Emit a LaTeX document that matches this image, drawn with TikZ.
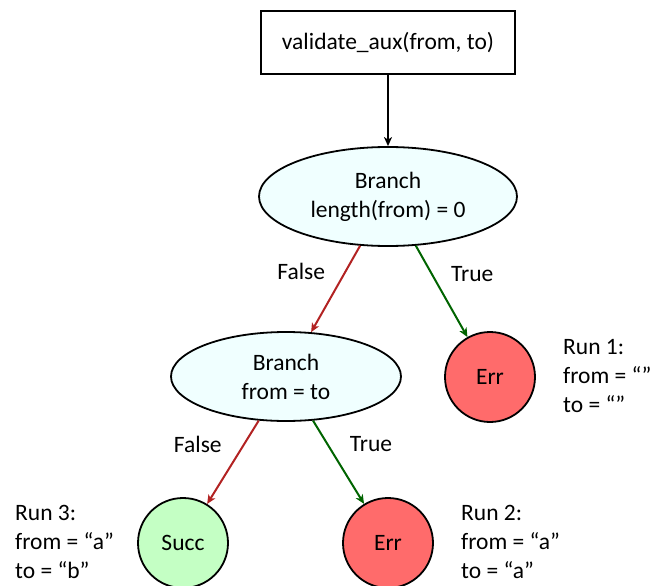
\documentclass[tikz,border=0pt]{standalone}
\usepackage{fontspec}
\setmainfont{Carlito}
\usepackage{xcolor}
\usepackage{tikz}
\usetikzlibrary{shapes.geometric, arrows.meta}

\definecolor{branchfill}{RGB}{240,255,255}
\definecolor{errfill}{RGB}{255,107,107}
\definecolor{succfill}{RGB}{196,255,196}
\definecolor{falsecol}{RGB}{178,34,34}
\definecolor{truecol}{RGB}{0,100,0}

\begin{document}
\begin{tikzpicture}%
                [x=1pt, y=-1pt,
                font=\fontsize{23.5}{29}\selectfont,
                entry/.style={draw, line width=1.8pt, minimum width=254pt, minimum height=63pt},
                branch/.style={ellipse, draw, line width=1.8pt, fill=branchfill, align=center, inner sep=0pt},
                errleaf/.style={circle, draw, line width=1.8pt, fill=errfill, minimum size=90pt, inner sep=0pt},
                succleaf/.style={circle, draw, line width=1.8pt, fill=succfill, minimum size=90pt, inner sep=0pt},
                runinfo/.style={align=left, anchor=west, inner sep=0pt},
                flow/.style={line width=2pt, -{Stealth[length=9pt, width=8pt, inset=2.5pt]}},
                falseedge/.style={flow, color=falsecol},
                trueedge/.style={flow, color=truecol},
                tag/.style={text=black}]

            \useasboundingbox (0,0) rectangle (651,586);

            %% Drawing the nodes
            \node[entry] (validate) at (388, 42.5) {validate\_aux(from, to)};
            \node[branch, minimum width=258pt, minimum height=99pt] (branchA) at (388, 196.5) {Branch\\length(from) = 0};
            \node[branch, minimum width=230pt, minimum height=89pt] (branchB) at (286, 376.5) {Branch\\from = to};
            \node[errleaf] (errA) at (490, 377) {Err};
            \node[succleaf] (succ) at (183, 543) {Succ};
            \node[errleaf] (errB) at (388, 543) {Err};
            %%
            %% Drawing the runs
            %%
            \node[runinfo] (runA) at (563, 376) {Run 1:\\from = “”\\to = “”};
            \node[runinfo] (runB) at (461, 542) {Run 2:\\from = “a”\\to = “a”};
            \node[runinfo] (runC) at (15, 542) {Run 3:\\from = “a”\\to = “b”};
            %%
            %% Drawing the edges
            %%
            \draw[flow] (validate) -- (branchA);
            \draw[falseedge] (branchA) -- node[tag, pos=0.3, left=16pt] {False} (branchB);
            \draw[trueedge] (branchA) -- node[tag, pos=0.31, right=15pt] {True} (errA);
            \draw[falseedge] (branchB) -- node[tag, pos=0.285, left=18pt] {False} (succ);
            \draw[trueedge] (branchB) -- node[tag, pos=0.285, right=18pt] {True} (errB);
            %%
            \end{tikzpicture}
\end{document}
